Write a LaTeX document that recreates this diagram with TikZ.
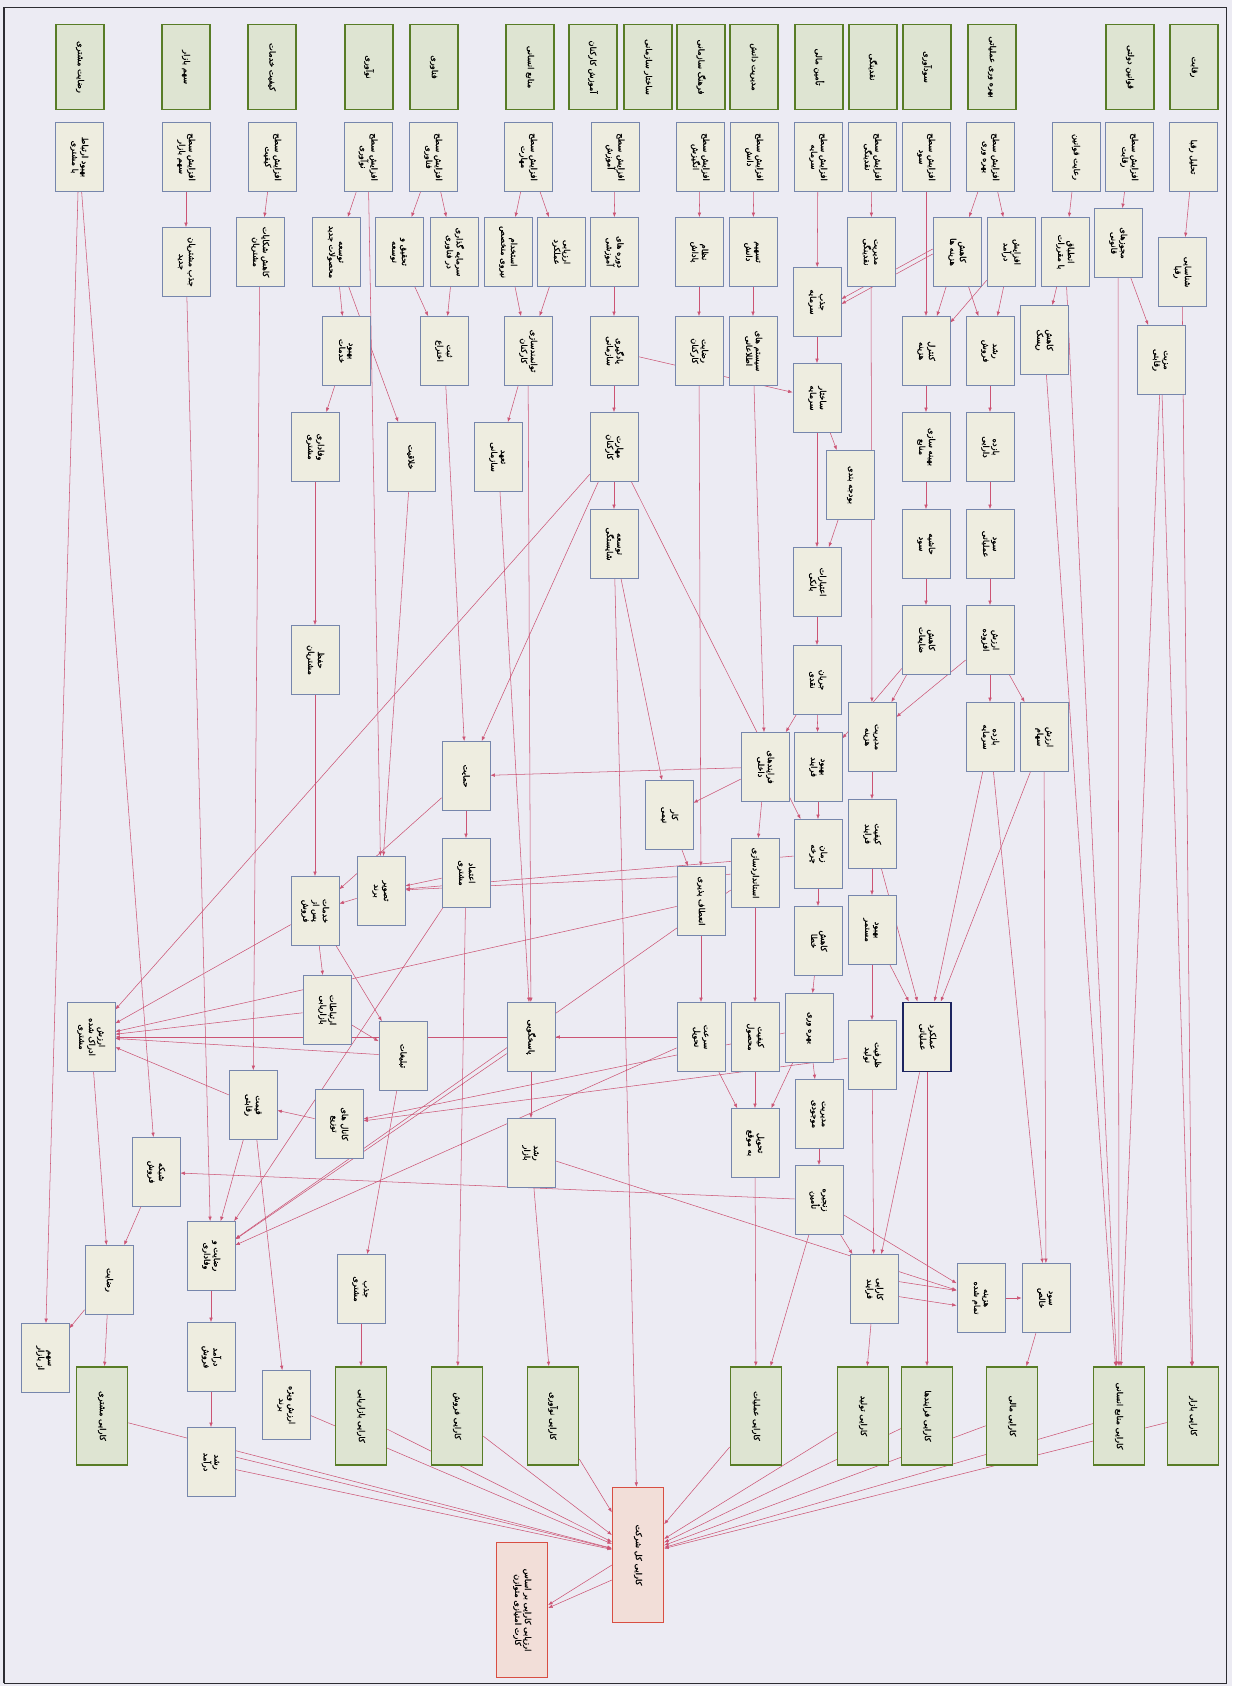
\documentclass[tikz,border=0pt]{standalone}
\usepackage{fontspec}
\usepackage{graphicx}
\usetikzlibrary{arrows.meta}
\newfontfamily\farsi[Script=Arabic,FakeBold=1.2]{DejaVu Sans}
\TeXXeTstate=1

\definecolor{pagebg}{RGB}{236,235,243}
\definecolor{factfill}{RGB}{238,237,224}
\definecolor{factline}{RGB}{118,134,172}
\definecolor{headfill}{RGB}{222,228,210}
\definecolor{headline}{RGB}{88,124,38}
\definecolor{resfill}{RGB}{242,222,216}
\definecolor{resline}{RGB}{216,78,66}
\definecolor{keyline}{RGB}{28,36,96}
\definecolor{linkc}{RGB}{204,84,116}
\definecolor{framec}{RGB}{45,45,50}

% vertical labels, one to three lines
\newcommand{\vt}[1]{\rotatebox{-90}{#1}}
\newcommand{\vtt}[2]{\rotatebox{-90}{\begin{tabular}{@{}c@{}}#1\\#2\end{tabular}}}
\newcommand{\vttt}[3]{\rotatebox{-90}{\begin{tabular}{@{}c@{}}#1\\#2\\#3\end{tabular}}}

\pgfdeclarelayer{bg}
\pgfsetlayers{bg,main}

\begin{document}
\begin{tikzpicture}[x=0.2mm, y=-0.2mm,
    every node/.style={inner sep=0pt, font=\farsi\fontsize{4.7}{5.6}\selectfont},
    factbox/.style={draw=factline, fill=factfill, line width=0.4pt, minimum width=9.6mm, minimum height=13.8mm},
    headbox/.style={draw=headline, fill=headfill, line width=0.9pt, minimum width=9.6mm, minimum height=17mm},
    goalbox/.style={draw=headline, fill=headfill, line width=0.9pt, minimum width=10.2mm, minimum height=19.6mm},
    resultbox/.style={draw=resline, fill=resfill, line width=0.7pt, minimum width=10.2mm, minimum height=27mm},
    keybox/.style={factbox, draw=keyline, line width=1.1pt},
    linkarrow/.style={draw=linkc, line width=0.3pt, -{Latex[length=0.9mm,width=0.7mm]}}]

    \useasboundingbox (0,0) rectangle (1232,1686);

    % --- header row ---
    \node[headbox] (A1) at (80,67) {\vt{\beginR رضایت مشتری\endR}};
    \node[headbox] (A2) at (186,67) {\vt{\beginR سهم بازار\endR}};
    \node[headbox] (A3) at (272,67) {\vt{\beginR کیفیت خدمات\endR}};
    \node[headbox] (A4) at (369,67) {\vt{\beginR نوآوری\endR}};
    \node[headbox] (A5) at (434,67) {\vt{\beginR فناوری\endR}};
    \node[headbox] (A6) at (530,67) {\vt{\beginR منابع انسانی\endR}};
    \node[headbox] (A7) at (593,67) {\vt{\beginR آموزش کارکنان\endR}};
    \node[headbox] (A8) at (648,67) {\vt{\beginR ساختار سازمانی\endR}};
    \node[headbox] (A9) at (701,67) {\vt{\beginR فرهنگ سازمانی\endR}};
    \node[headbox] (A10) at (754,67) {\vt{\beginR مدیریت دانش\endR}};
    \node[headbox] (A11) at (819,67) {\vt{\beginR تأمین مالی\endR}};
    \node[headbox] (A12) at (873,67) {\vt{\beginR نقدینگی\endR}};
    \node[headbox] (A13) at (927,67) {\vt{\beginR سودآوری\endR}};
    \node[headbox] (A14) at (992,67) {\vt{\beginR بهره وری عملیاتی\endR}};
    \node[headbox] (A15) at (1130,67) {\vt{\beginR قوانین دولتی\endR}};
    \node[headbox] (A16) at (1194,67) {\vt{\beginR رقابت\endR}};

    % --- first factors ---
    \node[factbox] (B1) at (79,157) {\vtt{\beginR بهبود ارتباط\endR}{\beginR با مشتری\endR}};
    \node[factbox] (B2) at (186,157) {\vtt{\beginR افزایش سطح\endR}{\beginR سهم بازار\endR}};
    \node[factbox] (B3) at (272,157) {\vtt{\beginR افزایش سطح\endR}{\beginR کیفیت\endR}};
    \node[factbox] (B4) at (368,157) {\vtt{\beginR افزایش سطح\endR}{\beginR نوآوری\endR}};
    \node[factbox] (B5) at (433,157) {\vtt{\beginR افزایش سطح\endR}{\beginR فناوری\endR}};
    \node[factbox] (B6) at (528,157) {\vtt{\beginR افزایش سطح\endR}{\beginR مهارت\endR}};
    \node[factbox] (B7) at (615,157) {\vtt{\beginR افزایش سطح\endR}{\beginR آموزش\endR}};
    \node[factbox] (B8) at (700,157) {\vtt{\beginR افزایش سطح\endR}{\beginR انگیزش\endR}};
    \node[factbox] (B9) at (754,157) {\vtt{\beginR افزایش سطح\endR}{\beginR دانش\endR}};
    \node[factbox] (B10) at (818,157) {\vtt{\beginR افزایش سطح\endR}{\beginR سرمایه\endR}};
    \node[factbox] (B11) at (872,157) {\vtt{\beginR افزایش سطح\endR}{\beginR نقدینگی\endR}};
    \node[factbox] (B12) at (926,157) {\vtt{\beginR افزایش سطح\endR}{\beginR سود\endR}};
    \node[factbox] (B13) at (990,157) {\vtt{\beginR افزایش سطح\endR}{\beginR بهره وری\endR}};
    \node[factbox] (B14) at (1076,157) {\vt{\beginR رعایت قوانین\endR}};
    \node[factbox] (B15) at (1129,157) {\vtt{\beginR افزایش سطح\endR}{\beginR رقابت\endR}};
    \node[factbox] (B16) at (1193,157) {\vt{\beginR تحلیل رقبا\endR}};

    % --- second factors ---
    \node[factbox] (C1) at (186,262) {\vtt{\beginR جذب مشتریان\endR}{\beginR جدید\endR}};
    \node[factbox] (C2) at (260,252) {\vtt{\beginR کاهش شکایات\endR}{\beginR مشتریان\endR}};
    \node[factbox] (C3) at (336,252) {\vtt{\beginR توسعه\endR}{\beginR محصولات جدید\endR}};
    \node[factbox] (C4) at (399,252) {\vtt{\beginR تحقیق و\endR}{\beginR توسعه\endR}};
    \node[factbox] (C5) at (454,252) {\vtt{\beginR سرمایه گذاری\endR}{\beginR در فناوری\endR}};
    \node[factbox] (C6) at (508,252) {\vtt{\beginR استخدام\endR}{\beginR نیروی متخصص\endR}};
    \node[factbox] (C7) at (561,252) {\vtt{\beginR ارزیابی\endR}{\beginR عملکرد\endR}};
    \node[factbox] (C8) at (614,252) {\vtt{\beginR دوره های\endR}{\beginR آموزشی\endR}};
    \node[factbox] (C9) at (699,252) {\vtt{\beginR نظام\endR}{\beginR پاداش\endR}};
    \node[factbox] (C10) at (753,252) {\vtt{\beginR تسهیم\endR}{\beginR دانش\endR}};
    \node[factbox] (C11) at (817,302) {\vtt{\beginR جذب\endR}{\beginR سرمایه\endR}};
    \node[factbox] (C12) at (871,252) {\vtt{\beginR مدیریت\endR}{\beginR نقدینگی\endR}};
    \node[factbox] (C13) at (957,252) {\vtt{\beginR کاهش\endR}{\beginR هزینه ها\endR}};
    \node[factbox] (C14) at (1011,252) {\vtt{\beginR افزایش\endR}{\beginR درآمد\endR}};
    \node[factbox] (C15) at (1065,252) {\vtt{\beginR انطباق\endR}{\beginR با مقررات\endR}};
    \node[factbox] (C16) at (1118,243) {\vtt{\beginR مجوزهای\endR}{\beginR قانونی\endR}};
    \node[factbox] (C17) at (1182,272) {\vtt{\beginR شناسایی\endR}{\beginR رقبا\endR}};

    % --- third factors ---
    \node[factbox] (D1) at (346,351) {\vtt{\beginR بهبود\endR}{\beginR خدمات\endR}};
    \node[factbox] (D2) at (444,351) {\vtt{\beginR ثبت\endR}{\beginR اختراع\endR}};
    \node[factbox] (D3) at (528,351) {\vtt{\beginR توانمندسازی\endR}{\beginR کارکنان\endR}};
    \node[factbox] (D4) at (614,351) {\vtt{\beginR یادگیری\endR}{\beginR سازمانی\endR}};
    \node[factbox] (D5) at (699,351) {\vtt{\beginR رضایت\endR}{\beginR کارکنان\endR}};
    \node[factbox] (D6) at (753,351) {\vtt{\beginR سیستم های\endR}{\beginR اطلاعاتی\endR}};
    \node[factbox] (D7) at (817,398) {\vtt{\beginR ساختار\endR}{\beginR سرمایه\endR}};
    \node[factbox] (D8) at (926,351) {\vtt{\beginR کنترل\endR}{\beginR هزینه\endR}};
    \node[factbox] (D9) at (990,351) {\vtt{\beginR رشد\endR}{\beginR فروش\endR}};
    \node[factbox] (D10) at (1044,340) {\vtt{\beginR کاهش\endR}{\beginR ریسک\endR}};
    \node[factbox] (D11) at (1161,360) {\vtt{\beginR مزیت\endR}{\beginR رقابتی\endR}};

    \node[factbox] (E1) at (315,447) {\vtt{\beginR وفاداری\endR}{\beginR مشتری\endR}};
    \node[factbox] (E2) at (411,457) {\vt{\beginR خلاقیت\endR}};
    \node[factbox] (E3) at (498,457) {\vtt{\beginR تعهد\endR}{\beginR سازمانی\endR}};
    \node[factbox] (E4) at (614,447) {\vtt{\beginR مهارت\endR}{\beginR کارکنان\endR}};
    \node[factbox] (E5) at (850,485) {\vt{\beginR بودجه بندی\endR}};
    \node[factbox] (E6) at (926,447) {\vtt{\beginR بهینه سازی\endR}{\beginR منابع\endR}};
    \node[factbox] (E7) at (990,447) {\vtt{\beginR بازده\endR}{\beginR دارایی\endR}};

    \node[factbox] (F1) at (614,544) {\vtt{\beginR توسعه\endR}{\beginR شایستگی\endR}};
    \node[factbox] (F2) at (926,544) {\vtt{\beginR حاشیه\endR}{\beginR سود\endR}};
    \node[factbox] (F3) at (990,544) {\vtt{\beginR سود\endR}{\beginR عملیاتی\endR}};
    \node[factbox] (F4) at (817,582) {\vtt{\beginR اعتبارات\endR}{\beginR بانکی\endR}};

    \node[factbox] (G1) at (926,640) {\vtt{\beginR کاهش\endR}{\beginR ضایعات\endR}};
    \node[factbox] (G2) at (990,640) {\vtt{\beginR ارزش\endR}{\beginR افزوده\endR}};
    \node[factbox] (G3) at (315,660) {\vtt{\beginR حفظ\endR}{\beginR مشتریان\endR}};
    \node[factbox] (G4) at (817,680) {\vtt{\beginR جریان\endR}{\beginR نقدی\endR}};

    \node[factbox] (H1) at (872,737) {\vtt{\beginR مدیریت\endR}{\beginR هزینه\endR}};
    \node[factbox] (H2) at (990,737) {\vtt{\beginR بازده\endR}{\beginR سرمایه\endR}};
    \node[factbox] (H3) at (1044,737) {\vtt{\beginR ارزش\endR}{\beginR سهام\endR}};

    % --- middle of the net ---
    \node[factbox] (I1) at (466,776) {\vt{\beginR حمایت\endR}};
    \node[factbox] (I2) at (765,767) {\vtt{\beginR فرایندهای\endR}{\beginR داخلی\endR}};
    \node[factbox] (I3) at (818,767) {\vtt{\beginR بهبود\endR}{\beginR فرایند\endR}};

    \node[factbox] (J1) at (669,815) {\vtt{\beginR کار\endR}{\beginR تیمی\endR}};
    \node[factbox] (J2) at (872,834) {\vtt{\beginR کیفیت\endR}{\beginR فرایند\endR}};
    \node[factbox] (J3) at (818,854) {\vtt{\beginR زمان\endR}{\beginR چرخه\endR}};
    \node[factbox] (J4) at (755,873) {\vt{\beginR استانداردسازی\endR}};

    \node[factbox] (K1) at (381,891) {\vtt{\beginR تصویر\endR}{\beginR برند\endR}};
    \node[factbox] (K2) at (466,873) {\vtt{\beginR اعتماد\endR}{\beginR مشتری\endR}};
    \node[factbox] (K3) at (315,911) {\vttt{\beginR خدمات\endR}{\beginR پس از\endR}{\beginR فروش\endR}};
    \node[factbox] (K4) at (701,901) {\vt{\beginR انعطاف پذیری\endR}};
    \node[factbox] (K5) at (818,941) {\vtt{\beginR کاهش\endR}{\beginR خطا\endR}};
    \node[factbox] (K6) at (872,930) {\vtt{\beginR بهبود\endR}{\beginR مستمر\endR}};

    \node[factbox] (Hub) at (91,1037) {\vttt{\beginR ارزش\endR}{\beginR ادراک شده\endR}{\beginR مشتری\endR}};
    \node[factbox] (L1) at (327,1010) {\vtt{\beginR ارتباطات\endR}{\beginR بازاریابی\endR}};
    \node[factbox] (L2) at (403,1056) {\vt{\beginR تبلیغات\endR}};
    \node[factbox] (L3) at (531,1037) {\vt{\beginR پاسخگویی\endR}};
    \node[factbox] (L4) at (701,1037) {\vtt{\beginR سرعت\endR}{\beginR تحویل\endR}};
    \node[factbox] (L5) at (755,1037) {\vtt{\beginR کیفیت\endR}{\beginR محصول\endR}};
    \node[factbox] (L6) at (809,1028) {\vt{\beginR بهره وری\endR}};
    \node[factbox] (L7) at (872,1055) {\vtt{\beginR ظرفیت\endR}{\beginR تولید\endR}};
    \node[keybox] (Key) at (927,1037) {\vtt{\beginR عملکرد\endR}{\beginR عملیاتی\endR}};

    \node[factbox] (M1) at (253,1105) {\vtt{\beginR قیمت\endR}{\beginR رقابتی\endR}};
    \node[factbox] (M2) at (339,1124) {\vtt{\beginR کانال های\endR}{\beginR توزیع\endR}};
    \node[factbox] (M3) at (819,1114) {\vtt{\beginR مدیریت\endR}{\beginR موجودی\endR}};
    \node[factbox] (M4) at (755,1143) {\vtt{\beginR تحویل\endR}{\beginR به موقع\endR}};

    \node[factbox] (N1) at (156,1172) {\vtt{\beginR شبکه\endR}{\beginR فروش\endR}};
    \node[factbox] (N2) at (531,1153) {\vtt{\beginR رشد\endR}{\beginR بازار\endR}};
    \node[factbox] (N3) at (819,1200) {\vtt{\beginR زنجیره\endR}{\beginR تأمین\endR}};

    \node[factbox] (O1) at (211,1256) {\vtt{\beginR رضایت و\endR}{\beginR وفاداری\endR}};
    \node[factbox] (O2) at (109,1280) {\vt{\beginR رضایت\endR}};
    \node[factbox] (O3) at (361,1289) {\vtt{\beginR جذب\endR}{\beginR مشتری\endR}};
    \node[factbox] (O4) at (874,1289) {\vtt{\beginR کارایی\endR}{\beginR فرایند\endR}};
    \node[factbox] (O5) at (981,1298) {\vtt{\beginR هزینه\endR}{\beginR تمام شده\endR}};
    \node[factbox] (O6) at (1046,1298) {\vtt{\beginR سود\endR}{\beginR خالص\endR}};

    \node[factbox] (P1) at (45,1358) {\vtt{\beginR سهم\endR}{\beginR از بازار\endR}};
    \node[factbox] (P2) at (211,1357) {\vtt{\beginR درآمد\endR}{\beginR فروش\endR}};
    \node[factbox] (P3) at (286,1405) {\vtt{\beginR ارزش ویژه\endR}{\beginR برند\endR}};
    \node[factbox] (Q1) at (211,1462) {\vtt{\beginR رشد\endR}{\beginR درآمد\endR}};

    % --- goals ---
    \node[goalbox] (Z1) at (102,1416) {\vt{\beginR کارایی مشتری\endR}};
    \node[goalbox] (Z2) at (361,1416) {\vt{\beginR کارایی بازاریابی\endR}};
    \node[goalbox] (Z3) at (457,1416) {\vt{\beginR کارایی فروش\endR}};
    \node[goalbox] (Z4) at (553,1416) {\vt{\beginR کارایی نوآوری\endR}};
    \node[goalbox] (Z5) at (756,1416) {\vt{\beginR کارایی عملیات\endR}};
    \node[goalbox] (Z6) at (863,1416) {\vt{\beginR کارایی تولید\endR}};
    \node[goalbox] (Z7) at (927,1416) {\vt{\beginR کارایی فرایندها\endR}};
    \node[goalbox] (Z8) at (1012,1416) {\vt{\beginR کارایی مالی\endR}};
    \node[goalbox] (Z9) at (1119,1416) {\vt{\beginR کارایی منابع انسانی\endR}};
    \node[goalbox] (Z10) at (1193,1416) {\vt{\beginR کارایی بازار\endR}};

    % --- result ---
    \node[resultbox] (R1) at (638,1555) {\vt{\beginR کارایی کل شرکت\endR}};
    \node[resultbox] (R2) at (522,1610) {\vtt{\beginR ارزیابی کارایی بر اساس\endR}{\beginR کارت امتیازی متوازن\endR}};

    \begin{pgfonlayer}{bg}
    \fill[pagebg] (0,0) rectangle (1232,1686);

    % top rows
    \draw[linkarrow] (B1) -- (P1);
    \draw[linkarrow] (B1) -- (N1);
    \draw[linkarrow] (B2) -- (C1);
    \draw[linkarrow] (B3) -- (C2);
    \draw[linkarrow] (B4) -- (C3);
    \draw[linkarrow] (B4) -- (K1);
    \draw[linkarrow] (B5) -- (C4);
    \draw[linkarrow] (B5) -- (C5);
    \draw[linkarrow] (B6) -- (C6);
    \draw[linkarrow] (B6) -- (C7);
    \draw[linkarrow] (B7) -- (C8);
    \draw[linkarrow] (B8) -- (C9);
    \draw[linkarrow] (B9) -- (C10);
    \draw[linkarrow] (B10) -- (C11);
    \draw[linkarrow] (B11) -- (C12);
    \draw[linkarrow] (B12) -- (D8);
    \draw[linkarrow] (B13) -- (C13);
    \draw[linkarrow] (B13) -- (C14);
    \draw[linkarrow] (B14) -- (C15);
    \draw[linkarrow] (B15) -- (C16);
    \draw[linkarrow] (B16) -- (C17);

    \draw[linkarrow] (C1) -- (O1);
    \draw[linkarrow] (C2) -- (M1);
    \draw[linkarrow] (C3) -- (D1);
    \draw[linkarrow] (C3) -- (E2);
    \draw[linkarrow] (C4) -- (D2);
    \draw[linkarrow] (C5) -- (D2);
    \draw[linkarrow] (C6) -- (D3);
    \draw[linkarrow] (C7) -- (D3);
    \draw[linkarrow] (C8) -- (D4);
    \draw[linkarrow] (C9) -- (D5);
    \draw[linkarrow] (C10) -- (D6);
    \draw[linkarrow] (C11) -- (D7);
    \draw[linkarrow] (C12) -- (H1);
    \draw[linkarrow] ([yshift=0.6mm]C13.west) -- ([yshift=0.6mm]C11.east);
    \draw[linkarrow] ([yshift=-0.4mm]C13.west) -- ([yshift=-0.4mm]C11.east);
    \draw[linkarrow] (C13) -- (D8);
    \draw[linkarrow] (C13) -- (D9);
    \draw[linkarrow] (C14) -- (D9);
    \draw[linkarrow] (C14) -- (D8);
    \draw[linkarrow] (C15) -- (D10);
    \draw[linkarrow] (C15) -- (Z9);
    \draw[linkarrow] (C16) -- (D11);
    \draw[linkarrow] (C16) -- (Z9);
    \draw[linkarrow] (C17) -- (Z10);

    \draw[linkarrow] (D1) -- (E1);
    \draw[linkarrow] (D2) -- (I1);
    \draw[linkarrow] (D3) -- (E3);
    \draw[linkarrow] (D3) -- (L3);
    \draw[linkarrow] (D4) -- (E4);
    \draw[linkarrow] (D4) -- (D7);
    \draw[linkarrow] (D5) -- (K4);
    \draw[linkarrow] (D6) -- (I2);
    \draw[linkarrow] (D7) -- (E5);
    \draw[linkarrow] (D7) -- (F4);
    \draw[linkarrow] (D8) -- (E6);
    \draw[linkarrow] (D9) -- (E7);
    \draw[linkarrow] (D10) -- (Z9);
    \draw[linkarrow] (D11) -- (Z9);
    \draw[linkarrow] (D11) -- (Z10);

    \draw[linkarrow] (E1) -- (G3);
    \draw[linkarrow] (E2) -- (K1);
    \draw[linkarrow] (E3) -- (L3);
    \draw[linkarrow] (E4) -- (F1);
    \draw[linkarrow] (E4) -- (I1);
    \draw[linkarrow] (E4) -- (Hub);
    \draw[linkarrow] (E4) -- (J3);
    \draw[linkarrow] (E5) -- (F4);
    \draw[linkarrow] (E6) -- (F2);
    \draw[linkarrow] (E7) -- (F3);

    \draw[linkarrow] (F1) -- (R1);
    \draw[linkarrow] (F1) -- (J1);
    \draw[linkarrow] (F2) -- (G1);
    \draw[linkarrow] (F3) -- (G2);
    \draw[linkarrow] (F4) -- (G4);

    \draw[linkarrow] (G1) -- (H1);
    \draw[linkarrow] (G1) -- (I3);
    \draw[linkarrow] (G2) -- (H1);
    \draw[linkarrow] (G2) -- (H2);
    \draw[linkarrow] (G2) -- (H3);
    \draw[linkarrow] (G3) -- (K3);
    \draw[linkarrow] (G4) -- (I2);
    \draw[linkarrow] (G4) -- (I3);

    \draw[linkarrow] (H1) -- (J2);
    \draw[linkarrow] (H2) -- (O6);
    \draw[linkarrow] (H2) -- (Key);
    \draw[linkarrow] (H3) -- (O6);
    \draw[linkarrow] (H3) -- (Key);

    % middle
    \draw[linkarrow] (I1) -- (K2);
    \draw[linkarrow] (I1) -- (K3);
    \draw[linkarrow] (I2) -- (I1);
    \draw[linkarrow] (I2) -- (J4);
    \draw[linkarrow] (I2) -- (J1);
    \draw[linkarrow] (I3) -- (J3);

    \draw[linkarrow] (J1) -- (K4);
    \draw[linkarrow] (J2) -- (K6);
    \draw[linkarrow] (J2) -- (Key);
    \draw[linkarrow] (J3) -- (K5);
    \draw[linkarrow] (J3) -- (K1);
    \draw[linkarrow] (J4) -- (L5);
    \draw[linkarrow] (J4) -- (K1);
    \draw[linkarrow] (J4) -- (O1);

    \draw[linkarrow] (K1) -- (K3);
    \draw[linkarrow] (K2) -- (K1);
    \draw[linkarrow] (K2) -- (Z3);
    \draw[linkarrow] (K2) -- (O1);
    \draw[linkarrow] (K3) -- (L1);
    \draw[linkarrow] (K3) -- (L2);
    \draw[linkarrow] (K3) -- (Hub);
    \draw[linkarrow] (K4) -- (L4);
    \draw[linkarrow] (K4) -- (Hub);
    \draw[linkarrow] (K5) -- (L6);
    \draw[linkarrow] (K6) -- (L7);
    \draw[linkarrow] (K6) -- (Key);

    \draw[linkarrow] (L1) -- (L2);
    \draw[linkarrow] (L1) -- (Hub);
    \draw[linkarrow] (L2) -- (Hub);
    \draw[linkarrow] (L2) -- (O3);
    \draw[linkarrow] (L3) -- (N2);
    \draw[linkarrow] (L3) -- (O1);
    \draw[linkarrow] (L4) -- (L3);
    \draw[linkarrow] (L4) -- (M4);
    \draw[linkarrow] (L4) -- (Hub);
    \draw[linkarrow] (L4) -- (O1);
    \draw[linkarrow] (L5) -- (M4);
    \draw[linkarrow] (L6) -- (M4);
    \draw[linkarrow] (L6) -- (M3);
    \draw[linkarrow] (L6) -- (M2);
    \draw[linkarrow] (L7) -- (M2);
    \draw[linkarrow] (L7) -- (O4);
    \draw[linkarrow] (Key) -- (Z7);
    \draw[linkarrow] (Key) -- (O4);

    % lower rows
    \draw[linkarrow] (M1) -- (Hub);
    \draw[linkarrow] (M1) -- (O1);
    \draw[linkarrow] (M1) -- (P3);
    \draw[linkarrow] (M2) -- (M1);
    \draw[linkarrow] (M3) -- (N3);
    \draw[linkarrow] (M4) -- (Z5);

    \draw[linkarrow] (N1) -- (O2);
    \draw[linkarrow] (N2) -- (O5);
    \draw[linkarrow] (N2) -- (Z4);
    \draw[linkarrow] (N3) -- (N1);
    \draw[linkarrow] (N3) -- (O4);
    \draw[linkarrow] (N3) -- (O5);
    \draw[linkarrow] (N3) -- (Z5);

    \draw[linkarrow] (Hub) -- (O2);
    \draw[linkarrow] (O1) -- (P2);
    \draw[linkarrow] (O2) -- (Z1);
    \draw[linkarrow] (O2) -- (P1);
    \draw[linkarrow] (O3) -- (Z2);
    \draw[linkarrow] (O4) -- (Z6);
    \draw[linkarrow] ([yshift=1.5mm]O4.east) -- ([yshift=1.5mm]O5.west);
    \draw[linkarrow] ([yshift=-1.5mm]O4.east) -- ([yshift=-1.5mm]O5.west);
    \draw[linkarrow] (O5) -- (O6);
    \draw[linkarrow] (O6) -- (Z8);

    \draw[linkarrow] (P2) -- (Q1);
    \draw[linkarrow] (P3) -- (R1);
    \draw[linkarrow] ([yshift=1mm]Q1.east) -- (R1);
    \draw[linkarrow] ([yshift=-1.5mm]Q1.east) -- (R1);

    % goals into the result
    \draw[linkarrow] (Z1) -- (R1);
    \draw[linkarrow] (Z2) -- (R1);
    \draw[linkarrow] (Z3) -- (R1);
    \draw[linkarrow] (Z4) -- (R1);
    \draw[linkarrow] (Z5) -- (R1);
    \draw[linkarrow] (Z6) -- (R1);
    \draw[linkarrow] (Z7) -- (R1);
    \draw[linkarrow] (Z8) -- (R1);
    \draw[linkarrow] (Z9) -- (R1);
    \draw[linkarrow] (Z10) -- (R1);
    \draw[linkarrow] ([yshift=-2mm]R1.west) -- ([yshift=1mm]R2.east);
    \draw[linkarrow] ([yshift=-5mm]R1.west) -- ([yshift=0.4mm]R2.east);
    \end{pgfonlayer}

    % frame
    \draw[framec, line width=0.5pt] (4,7) rectangle (1226,1683);
    \draw[framec, line width=1.4pt] (4,7) -- (4,1683);
\end{tikzpicture}
\end{document}
